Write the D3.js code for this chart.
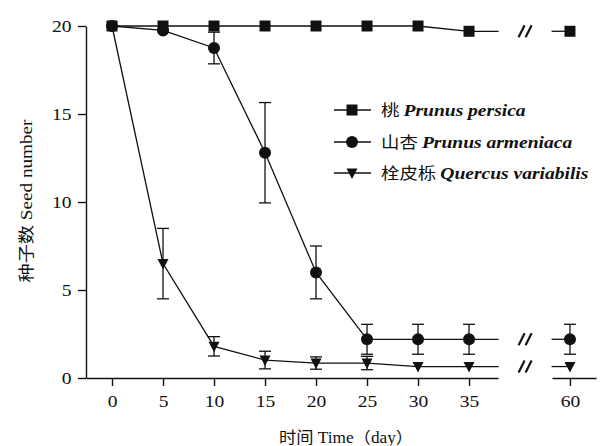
<!DOCTYPE html>
<html><head><meta charset="utf-8">
<script src="https://cdn.jsdelivr.net/npm/d3@7"></script>
<style>
body{margin:0;background:#fff;}
text{font-family:"Liberation Serif","Noto Sans CJK SC",serif;fill:#111;}
</style></head>
<body><svg id="c" width="607" height="446"></svg>
<script>
// ---- data ----
const days = [0, 5, 10, 15, 20, 25, 30, 35, 60];
const xTickLabels = ["0","5","10","15","20","25","30","35","60"];
const yTicks = [0, 5, 10, 15, 20];
const peachMean   = [20, 20, 20, 20, 20, 20, 20, 19.7, 19.7];
const peachErr    = [0, 0, 0, 0, 0, 0, 0, 0, 0];
const apricotMean = [20, 19.75, 18.75, 12.8, 6.0, 2.2, 2.2, 2.2, 2.2];
const apricotErr  = [0, 0, 0.9, 2.85, 1.5, 0.85, 0.85, 0.85, 0.85];
const oakMean     = [20, 6.5, 1.8, 1.02, 0.85, 0.85, 0.65, 0.65, 0.65];
const oakErr      = [0, 2.0, 0.55, 0.5, 0.35, 0.38, 0, 0, 0];
const seriesNames = ["桃", "山杏", "栓皮栎"];
const seriesLatin = ["Prunus persica", "Prunus armeniaca", "Quercus variabilis"];
const xTitle = "时间 Time（day）";
const yTitle = "种子数 Seed number";

// ---- layout ----
const svg = d3.select("#c");
const ink = "#111";
const stretch = 1.15;
const x1 = d3.scaleLinear().domain([-2.55, 37.84]).range([86, 498]);
const x2 = d3.scaleLinear().domain([58.24, 62.55]).range([552, 596]);
const X = d => d <= 40 ? x1(d) : x2(d);
const y = d3.scaleLinear().domain([0, 20]).range([378, 26]);
const breakStart = 37.9, breakEnd = 58.2;

// axes
svg.append("g").attr("class", "xa").attr("transform", "translate(0,378)")
  .call(d3.axisBottom(x1).tickValues(days.filter(d => d <= 35)).tickFormat((d) => xTickLabels[days.indexOf(d)]).tickSize(8).tickSizeOuter(0).tickPadding(9));
svg.append("g").attr("class", "xa").attr("transform", "translate(0,378)")
  .call(d3.axisBottom(x2).tickValues([60]).tickFormat(() => xTickLabels[8]).tickSize(8).tickSizeOuter(0).tickPadding(9));
svg.append("g").attr("transform", "translate(86,0)")
  .call(d3.axisLeft(y).tickValues(yTicks).tickSize(8).tickSizeOuter(0).tickPadding(4.5));
svg.selectAll(".domain, .tick line").attr("stroke", ink).attr("stroke-width", 1.4);
svg.selectAll(".tick text").attr("font-size", 17).attr("fill", ink)
  .attr("font-family", "Liberation Serif").attr("transform", `scale(${stretch},1)`);

// titles
svg.append("text").attr("transform", "translate(346,443) scale(1.08,1)").attr("text-anchor", "middle")
  .attr("font-size", 16).text(xTitle);
svg.append("text").attr("transform", "translate(32,201) rotate(-90) scale(1.2,1)").attr("text-anchor", "middle")
  .attr("font-size", 16).text(yTitle);

const series = [
  {mean: peachMean, err: peachErr, shape: "square"},
  {mean: apricotMean, err: apricotErr, shape: "circle"},
  {mean: oakMean, err: oakErr, shape: "triangle"}
];

function drawMarker(g, shape, cx, cy) {
  if (shape === "square") {
    g.append("rect").attr("x", cx - 5.5).attr("y", cy - 5.5).attr("width", 11).attr("height", 11).attr("fill", ink);
  } else if (shape === "circle") {
    g.append("circle").attr("cx", cx).attr("cy", cy).attr("r", 6).attr("fill", ink);
  } else {
    g.append("path").attr("d", `M${cx - 5.5},${cy - 4.5}L${cx + 5.5},${cy - 4.5}L${cx},${cy + 6}Z`).attr("fill", ink);
  }
}

const line = d3.line().x(d => X(d[0])).y(d => y(d[1]));
series.forEach(s => {
  const g = svg.append("g");
  const main = days.map((d, i) => [d, s.mean[i]]).filter(p => p[0] <= 35);
  const last = main[main.length - 1];
  main.push([breakStart, last[1]]);
  g.append("path").attr("d", line(main)).attr("fill", "none").attr("stroke", ink).attr("stroke-width", 1.3);
  const v60 = s.mean[days.indexOf(60)];
  g.append("path").attr("d", line([[breakEnd, v60], [60, v60]])).attr("fill", "none").attr("stroke", ink).attr("stroke-width", 1.3);
  // break marks
  const bx = X(breakStart) + (X(breakEnd) - X(breakStart)) / 2, by = y(last[1]);
  [-3.5, 3.5].forEach(o => {
    g.append("line").attr("x1", bx + o - 3).attr("y1", by + 6).attr("x2", bx + o + 3).attr("y2", by - 6)
      .attr("stroke", ink).attr("stroke-width", 2.2);
  });
  // error bars
  days.forEach((d, i) => {
    const e = s.err[i];
    if (e > 0) {
      const cx = X(d);
      g.append("line").attr("x1", cx).attr("x2", cx).attr("y1", y(s.mean[i] + e)).attr("y2", y(s.mean[i] - e)).attr("stroke", ink).attr("stroke-width", 1.3);
      [s.mean[i] + e, s.mean[i] - e].forEach(v => g.append("line").attr("x1", cx - 6).attr("x2", cx + 6).attr("y1", y(v)).attr("y2", y(v)).attr("stroke", ink).attr("stroke-width", 1.3));
    }
  });
  days.forEach((d, i) => drawMarker(g, s.shape, X(d), y(s.mean[i])));
});

// legend
const leg = svg.append("g");
const legY = [110, 142, 173];
series.forEach((s, i) => {
  leg.append("line").attr("x1", 334).attr("x2", 371).attr("y1", legY[i]).attr("y2", legY[i]).attr("stroke", ink).attr("stroke-width", 1.3);
  drawMarker(leg, s.shape, 352, legY[i]);
  const t = leg.append("text").attr("transform", `translate(381,${legY[i] + 6}) scale(${stretch},1)`).attr("font-size", 17);
  t.append("tspan").attr("font-family", "Noto Sans CJK SC").attr("font-size", 16).text(seriesNames[i] + " ");
  t.append("tspan").attr("font-style", "italic").attr("font-weight", "bold").text(seriesLatin[i]);
});
</script></body></html>
